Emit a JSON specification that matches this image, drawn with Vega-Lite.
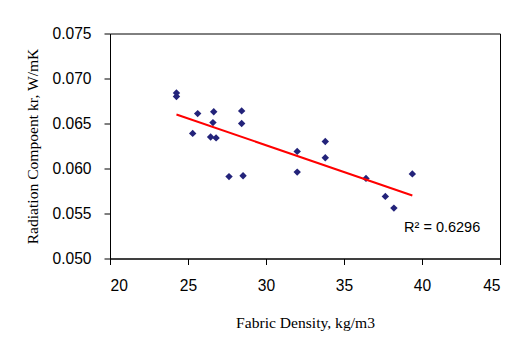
{
  "$schema": "https://vega.github.io/schema/vega-lite/v6.json",
  "width": 390,
  "height": 225,
  "autosize": {"type": "none"},
  "padding": {"left": 110, "top": 33.5, "right": 18, "bottom": 88.5},
  "background": "white",
  "config": {
    "view": {"stroke": "#000000", "strokeWidth": 1},
    "axis": {
      "grid": false,
      "domainColor": "#000000",
      "tickColor": "#000000",
      "tickSize": 6,
      "labelFont": "Liberation Sans",
      "labelFontSize": 15.6,
      "labelColor": "#000000",
      "titleFont": "Liberation Serif",
      "titleFontSize": 15.6,
      "titleFontWeight": "normal",
      "titleColor": "#000000"
    }
  },
  "datasets": {
    "pts": [
      {"density": 24.26, "kr": 0.0684},
      {"density": 24.26, "kr": 0.0680},
      {"density": 25.62, "kr": 0.0661},
      {"density": 26.65, "kr": 0.0663},
      {"density": 26.6, "kr": 0.0651},
      {"density": 28.44, "kr": 0.0664},
      {"density": 28.44, "kr": 0.0650},
      {"density": 25.3, "kr": 0.0639},
      {"density": 26.45, "kr": 0.0635},
      {"density": 26.8, "kr": 0.0634},
      {"density": 27.63, "kr": 0.0591},
      {"density": 28.53, "kr": 0.0592},
      {"density": 32.0, "kr": 0.0619},
      {"density": 32.0, "kr": 0.0596},
      {"density": 33.8, "kr": 0.0630},
      {"density": 33.8, "kr": 0.0612},
      {"density": 36.41, "kr": 0.0589},
      {"density": 37.65, "kr": 0.0569},
      {"density": 38.2, "kr": 0.0556},
      {"density": 39.38, "kr": 0.0594}
    ],
    "trend": [
      {"density": 24.26, "kr": 0.0660},
      {"density": 39.38, "kr": 0.0570}
    ],
    "label": [
      {"density": 38.85, "kr": 0.0534, "text": "R² = 0.6296"}
    ]
  },
  "layer": [
    {
      "data": {"name": "pts"},
      "mark": {"type": "point", "shape": "diamond", "filled": true, "size": 55, "color": "#23237A", "opacity": 1},
      "encoding": {
        "x": {"field": "density", "type": "quantitative", "scale": {"domain": [20, 45], "nice": false, "zero": false}, "axis": {"values": [20, 25, 30, 35, 40, 45], "title": "Fabric Density, kg/m3", "labelPadding": 14, "titlePadding": 21.5}},
        "y": {"field": "kr", "type": "quantitative", "scale": {"domain": [0.05, 0.075], "nice": false, "zero": false}, "axis": {"values": [0.05, 0.055, 0.06, 0.065, 0.07, 0.075], "format": ".3f", "title": "Radiation Compoent kr, W/mK", "labelPadding": 13, "titlePadding": 11}}
      }
    },
    {
      "data": {"name": "trend"},
      "mark": {"type": "line", "color": "#FF0000", "strokeWidth": 2},
      "encoding": {
        "x": {"field": "density", "type": "quantitative"},
        "y": {"field": "kr", "type": "quantitative"}
      }
    },
    {
      "data": {"name": "label"},
      "mark": {"type": "text", "align": "left", "baseline": "middle", "font": "Liberation Sans", "fontSize": 14.5, "color": "#000000"},
      "encoding": {
        "x": {"field": "density", "type": "quantitative"},
        "y": {"field": "kr", "type": "quantitative"},
        "text": {"field": "text"}
      }
    }
  ]
}
